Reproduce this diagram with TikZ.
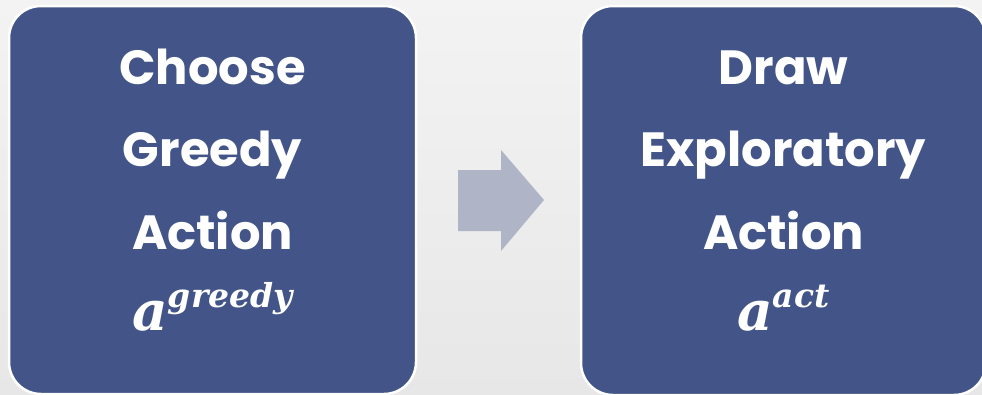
\documentclass[tikz,border=0pt]{standalone}
\usepackage{fontspec}
\setmainfont{Poppins}
\newfontfamily\mathish{DejaVu Serif}
\definecolor{boxblue}{HTML}{435588}
\definecolor{arrowgray}{HTML}{B0B4C7}
\definecolor{bgtop}{HTML}{F3F3F3}
\definecolor{bgbot}{HTML}{E7E7E8}
\tikzset{
  panel/.style={fill=boxblue, draw=white, line width=2.5pt, rounded corners=32pt},
  label/.style={text=white, anchor=base, inner sep=0pt, font=\fontsize{48}{52}\selectfont\bfseries},
  mlabel/.style={text=white, anchor=base, inner sep=0pt},
  blockarrow/.style={fill=arrowgray, draw=none}
}
\newcommand{\mvar}[1]{{\mathish\bfseries\itshape\fontsize{55}{58}\selectfont a\raisebox{23pt}{\fontsize{33}{36}\selectfont #1}}}
\begin{document}
\begin{tikzpicture}[x=1pt,y=-1pt]
\useasboundingbox (0,0) rectangle (982,394);
\shade[top color=bgtop, bottom color=bgbot] (0,0) rectangle (982,394);
\begin{scope}
\clip (0,0) rectangle (982,394);
\draw[panel] (9,6) rectangle (416,394);
\draw[panel] (581,6) rectangle (986,395);
\end{scope}
\fill[blockarrow] (458,170) -- (501,170) -- (501,150) -- (544,200) -- (501,251) -- (501,231) -- (458,231) -- cycle;
\node[label] (c1) at (212.5,84) {Choose};
\node[label] (c2) at (212.5,166) {Greedy};
\node[label] (c3) at (212.5,249) {Action};
\node[mlabel] (c4) at (212.5,330) {\mvar{greedy}};
\node[label] (d1) at (783.5,84) {Draw};
\node[label] (d2) at (783.5,166) {Exploratory};
\node[label] (d3) at (783.5,249) {Action};
\node[mlabel] (d4) at (783.5,330) {\mvar{act}};
\end{tikzpicture}
\end{document}
